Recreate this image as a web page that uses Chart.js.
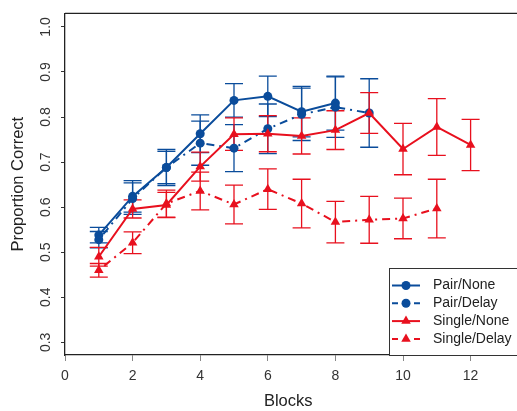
<!DOCTYPE html>
<html><head><meta charset="utf-8">
<script src="https://cdn.jsdelivr.net/npm/chart.js@4.4.1/dist/chart.umd.min.js"></script>
<style>html,body{margin:0;padding:0;overflow:hidden;background:#fff;width:517px;height:411px}canvas{display:block}</style>
</head><body>
<canvas id="c" width="517" height="411"></canvas>
<script>
// ---- data ----
const seriesNames = ['Pair/None', 'Pair/Delay', 'Single/None', 'Single/Delay'];
const blocksPairNone = [1, 2, 3, 4, 5, 6, 7, 8];
const pairNone = [0.538, 0.624, 0.688, 0.763, 0.837, 0.846, 0.812, 0.831];
const pairNoneErr = [0.017, 0.035, 0.040, 0.042, 0.037, 0.045, 0.056, 0.060];
const blocksPairDelay = [1, 2, 3, 4, 5, 6, 7, 8, 9];
const pairDelay = [0.528, 0.619, 0.688, 0.742, 0.731, 0.774, 0.806, 0.822, 0.809];
const pairDelayErr = [0.018, 0.035, 0.036, 0.049, 0.052, 0.055, 0.058, 0.067, 0.076];
const blocksSingleNone = [1, 2, 3, 4, 5, 6, 7, 8, 9, 10, 11, 12];
const singleNone = [0.490, 0.596, 0.605, 0.690, 0.762, 0.763, 0.758, 0.771, 0.809, 0.729, 0.778, 0.738];
const singleNoneErr = [0.021, 0.020, 0.028, 0.032, 0.036, 0.040, 0.040, 0.043, 0.045, 0.057, 0.063, 0.057];
const blocksSingleDelay = [1, 2, 3, 4, 5, 6, 7, 8, 9, 10, 11];
const singleDelay = [0.460, 0.521, 0.608, 0.636, 0.606, 0.640, 0.608, 0.567, 0.572, 0.575, 0.597];
const singleDelayErr = [0.015, 0.024, 0.030, 0.042, 0.043, 0.045, 0.054, 0.046, 0.052, 0.045, 0.065];
const xTickValues = [0, 2, 4, 6, 8, 10, 12];
const yTickValues = [0.3, 0.4, 0.5, 0.6, 0.7, 0.8, 0.9, 1.0];

// ---- styles ----
const BLUE = '#0a4c9b';
const RED = '#e8101e';
const DASH = [2, 5, 8, 5];
const FONT = '"Liberation Sans", Arial, sans-serif';

function pts(xs, ys) { return xs.map((x, i) => ({ x: x, y: ys[i] })); }

function makeDs(label, xs, ys, errs, color, style, dashed, order) {
  return {
    label: label, data: pts(xs, ys), errors: errs,
    borderColor: color, backgroundColor: color,
    pointBackgroundColor: color, pointBorderColor: color,
    borderWidth: 2, borderDash: dashed ? DASH : [],
    pointStyle: style, pointRadius: style === 'circle' ? 4.5 : 5.5,
    pointBorderWidth: 0, pointHoverRadius: 5, tension: 0, fill: false, order: order
  };
}

const datasets = [
  makeDs(seriesNames[0], blocksPairNone, pairNone, pairNoneErr, BLUE, 'circle', false, 4),
  makeDs(seriesNames[1], blocksPairDelay, pairDelay, pairDelayErr, BLUE, 'circle', true, 3),
  makeDs(seriesNames[2], blocksSingleNone, singleNone, singleNoneErr, RED, 'triangle', false, 2),
  makeDs(seriesNames[3], blocksSingleDelay, singleDelay, singleDelayErr, RED, 'triangle', true, 1)
];

const errorBars = {
  id: 'errorBars',
  beforeDatasetsDraw(chart) {
    const ctx = chart.ctx, xs = chart.scales.x, ys = chart.scales.y;
    chart.data.datasets.forEach(ds => {
      ctx.save();
      ctx.strokeStyle = ds.borderColor; ctx.lineWidth = 1.3; ctx.setLineDash([]);
      ds.data.forEach((p, i) => {
        const e = ds.errors[i];
        const px = xs.getPixelForValue(p.x);
        const t = ys.getPixelForValue(p.y + e), b = ys.getPixelForValue(p.y - e);
        ctx.beginPath();
        ctx.moveTo(px, t); ctx.lineTo(px, b);
        ctx.moveTo(px - 9, t); ctx.lineTo(px + 9, t);
        ctx.moveTo(px - 9, b); ctx.lineTo(px + 9, b);
        ctx.stroke();
      });
      ctx.restore();
    });
  }
};

const frameTop = {
  id: 'frameTop',
  afterDraw(chart) {
    const ctx = chart.ctx, a = chart.chartArea;
    ctx.save();
    ctx.strokeStyle = '#222'; ctx.lineWidth = 1.3;
    ctx.beginPath(); ctx.moveTo(a.left, a.top); ctx.lineTo(chart.width, a.top); ctx.stroke();
    ctx.restore();
  }
};

const legendBox = {
  id: 'legendBox',
  afterDraw(chart) {
    const ctx = chart.ctx, a = chart.chartArea;
    const x0 = 389, y0 = 268, yb = a.bottom;
    ctx.save();
    ctx.fillStyle = '#fff'; ctx.fillRect(x0, y0, chart.width - x0, yb - y0);
    ctx.strokeStyle = '#333'; ctx.lineWidth = 1;
    ctx.strokeRect(x0 + 0.5, y0 + 0.5, chart.width, yb - y0);
    chart.data.datasets.forEach((ds, i) => {
      const yr = 285.5 + i * 17.8;
      ctx.strokeStyle = ds.borderColor; ctx.lineWidth = 2;
      ctx.setLineDash(ds.borderDash.length ? [6, 16] : []);
      ctx.beginPath(); ctx.moveTo(392, yr); ctx.lineTo(420, yr); ctx.stroke();
      ctx.setLineDash([]);
      ctx.fillStyle = ds.borderColor;
      Chart.helpers.drawPoint(ctx, { pointStyle: ds.pointStyle, radius: ds.pointRadius, rotation: 0, borderWidth: 0 }, 406, yr);
      ctx.fillStyle = '#222';
      ctx.font = '14px ' + FONT; ctx.textBaseline = 'middle'; ctx.textAlign = 'left';
      ctx.fillText(ds.label, 433, yr);
    });
    ctx.restore();
  }
};

new Chart(document.getElementById('c'), {
  type: 'line',
  data: { datasets: datasets },
  plugins: [errorBars, frameTop, legendBox],
  options: {
    responsive: false, animation: false,
    layout: { padding: { top: 7, left: 0, right: 0, bottom: 0 } },
    plugins: { legend: { display: false }, tooltip: { enabled: false } },
    scales: {
      x: {
        type: 'linear', min: 0, max: 13.21,
        afterBuildTicks: s => { s.ticks = xTickValues.map(v => ({ value: v })); },
        afterFit: s => { s.height = 56; },
        ticks: { font: { family: FONT, size: 14 }, color: '#333', padding: 7, maxRotation: 0, callback: v => String(v) },
        grid: { drawOnChartArea: false, drawTicks: true, tickLength: 6, color: '#888' },
        border: { display: true, color: '#222', width: 1.3 },
        title: { display: true, text: 'Blocks', font: { family: FONT, size: 16.5 }, color: '#222', padding: { top: 0, bottom: 0 } }
      },
      y: {
        type: 'linear', min: 0.272, max: 1.03,
        afterBuildTicks: s => { s.ticks = yTickValues.map(v => ({ value: v })); },
        afterFit: s => { s.width = 65; },
        ticks: { font: { family: FONT, size: 14 }, color: '#333', padding: 5, minRotation: 90, maxRotation: 90, crossAlign: 'center', callback: v => Number(v).toFixed(1) },
        grid: { drawOnChartArea: false, drawTicks: true, tickLength: 4, color: '#333' },
        border: { display: true, color: '#222', width: 1.3 },
        title: { display: true, text: 'Proportion Correct', font: { family: FONT, size: 16.5 }, color: '#222', padding: { top: 9, bottom: 0 } }
      }
    }
  }
});
</script>
</body></html>
